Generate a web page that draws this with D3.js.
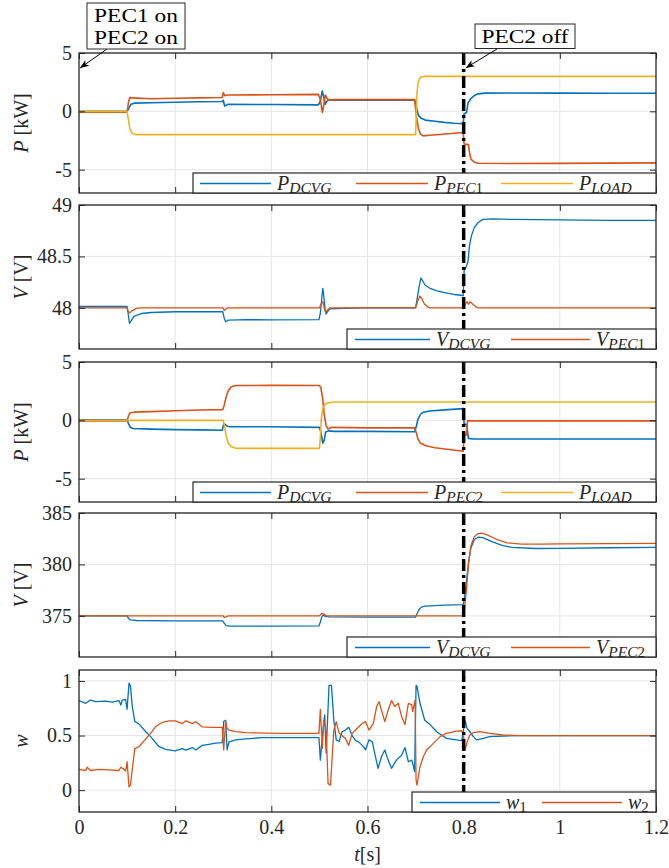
<!DOCTYPE html>
<html><head><meta charset="utf-8">
<script src="https://cdn.jsdelivr.net/npm/d3@7"></script>
<style>body{margin:0;background:#fff}svg{display:block}</style>
</head><body>
<svg id="c" width="669" height="868"></svg>
<script>
// ---------- data (t [s], value) ----------
const timeTicks = [0, 0.2, 0.4, 0.6, 0.8, 1, 1.2];
const timeTickLabels = ["0", "0.2", "0.4", "0.6", "0.8", "1", "1.2"];
const eventTime = 0.8;

const p1Ticks = [-5, 0, 5];           const p1TickLabels = ["-5", "0", "5"];
const v1Ticks = [48, 48.5, 49];       const v1TickLabels = ["48", "48.5", "49"];
const p2Ticks = [-5, 0, 5];           const p2TickLabels = ["-5", "0", "5"];
const v2Ticks = [375, 380, 385];      const v2TickLabels = ["375", "380", "385"];
const wTicks = [0, 0.5, 1];           const wTickLabels = ["0", "0.5", "1"];

// Panel 1: powers with PEC1
const pDCVG1 = [[0,0],[0.1,0],[0.104,0.3],[0.108,0.6],[0.115,0.7],[0.15,0.74],[0.2,0.78],[0.25,0.82],[0.298,0.84],[0.3,0.95],[0.303,0.45],[0.307,0.55],[0.31,0.6],[0.4,0.58],[0.498,0.55],[0.502,0.9],[0.506,1.75],[0.509,1.2],[0.512,0.6],[0.515,0.85],[0.52,1.0],[0.53,0.95],[0.6,0.95],[0.698,0.95],[0.702,0.3],[0.706,-0.35],[0.712,-0.6],[0.72,-0.75],[0.74,-0.85],[0.76,-0.95],[0.78,-1.02],[0.799,-1.05],[0.801,-0.2],[0.806,-0.1],[0.809,0.7],[0.815,1.1],[0.822,1.35],[0.83,1.5],[0.845,1.56],[0.9,1.57],[1.0,1.56],[1.1,1.55],[1.2,1.55]];
const pPEC1 = [[0,-0.08],[0.1,-0.08],[0.103,0.8],[0.106,1.2],[0.11,1.15],[0.15,1.08],[0.2,1.12],[0.25,1.15],[0.298,1.18],[0.3,1.6],[0.303,1.35],[0.31,1.4],[0.4,1.42],[0.498,1.45],[0.502,1.0],[0.506,-0.1],[0.509,0.5],[0.512,1.4],[0.516,1.1],[0.52,0.95],[0.53,1.0],[0.6,1.0],[0.698,1.0],[0.702,-0.5],[0.706,-1.5],[0.71,-1.95],[0.716,-2.1],[0.73,-2.05],[0.75,-1.98],[0.78,-1.88],[0.799,-1.82],[0.801,-2.8],[0.81,-2.85],[0.812,-3.5],[0.815,-4.1],[0.822,-4.35],[0.83,-4.45],[0.9,-4.47],[1.0,-4.46],[1.1,-4.44],[1.2,-4.42]];
const pLOAD1 = [[0,0],[0.1,0],[0.103,-0.8],[0.106,-1.5],[0.11,-1.85],[0.115,-1.97],[0.12,-2.0],[0.7,-2.0],[0.701,-1.0],[0.702,0.5],[0.703,1.6],[0.705,2.4],[0.708,2.8],[0.712,2.95],[0.72,3.0],[1.2,3.0]];

// Panel 2: voltages, 48 V side
const vDCVG1 = [[0,48.013],[0.1,48.013],[0.102,47.95],[0.105,47.85],[0.108,47.87],[0.115,47.92],[0.13,47.945],[0.15,47.955],[0.2,47.962],[0.299,47.962],[0.302,47.9],[0.305,47.865],[0.31,47.88],[0.35,47.885],[0.4,47.883],[0.499,47.885],[0.502,47.95],[0.505,48.1],[0.507,48.19],[0.509,48.12],[0.512,47.97],[0.514,47.94],[0.518,47.97],[0.522,47.99],[0.55,47.995],[0.6,48.0],[0.7,48.0],[0.703,48.08],[0.707,48.2],[0.711,48.29],[0.715,48.26],[0.72,48.22],[0.73,48.19],[0.745,48.165],[0.76,48.148],[0.78,48.13],[0.799,48.12],[0.801,48.36],[0.806,48.41],[0.809,48.45],[0.812,48.6],[0.816,48.7],[0.822,48.78],[0.83,48.83],[0.84,48.86],[0.86,48.865],[0.9,48.86],[1.0,48.855],[1.1,48.85],[1.2,48.85]];
const vPEC1 = [[0,48.0],[0.1,48.0],[0.102,47.97],[0.105,47.95],[0.11,47.97],[0.12,47.995],[0.13,48.0],[0.299,48.0],[0.302,47.975],[0.306,47.99],[0.31,48.0],[0.5,48.0],[0.504,48.04],[0.507,48.06],[0.51,48.0],[0.513,47.955],[0.517,47.98],[0.522,48.0],[0.7,48.0],[0.704,48.06],[0.709,48.115],[0.713,48.09],[0.718,48.04],[0.725,48.01],[0.73,48.0],[0.8,48.0],[0.803,48.03],[0.807,48.06],[0.81,48.035],[0.813,48.06],[0.818,48.04],[0.824,48.015],[0.83,48.0],[1.2,48.0]];

// Panel 3: powers with PEC2
const pDCVG2 = [[0,0.05],[0.1,0.05],[0.103,-0.3],[0.107,-0.6],[0.112,-0.7],[0.15,-0.75],[0.2,-0.8],[0.25,-0.82],[0.298,-0.85],[0.301,-0.3],[0.304,-0.35],[0.308,-0.5],[0.315,-0.55],[0.4,-0.55],[0.5,-0.6],[0.503,-1.0],[0.507,-1.95],[0.51,-1.7],[0.513,-1.0],[0.52,-0.9],[0.53,-0.95],[0.6,-0.95],[0.698,-0.98],[0.701,-0.6],[0.705,0.1],[0.71,0.5],[0.716,0.7],[0.73,0.8],[0.76,0.9],[0.799,1.0],[0.801,-0.3],[0.806,-0.35],[0.81,-1.55],[0.82,-1.6],[1.2,-1.6]];
const pPEC2 = [[0,-0.05],[0.1,-0.05],[0.103,0.4],[0.107,0.65],[0.115,0.7],[0.15,0.75],[0.2,0.82],[0.25,0.88],[0.299,0.92],[0.302,1.3],[0.306,2.0],[0.31,2.5],[0.316,2.85],[0.325,2.98],[0.4,3.0],[0.5,2.98],[0.503,2.8],[0.507,1.8],[0.51,0.5],[0.514,-0.45],[0.518,-0.75],[0.525,-0.6],[0.6,-0.65],[0.698,-0.65],[0.701,-1.0],[0.705,-1.6],[0.71,-1.95],[0.72,-2.15],[0.74,-2.35],[0.77,-2.5],[0.799,-2.65],[0.801,-1.3],[0.806,-1.25],[0.808,-0.05],[1.2,-0.05]];
const pLOAD2 = [[0,0],[0.3,0],[0.302,-0.4],[0.306,-1.3],[0.31,-1.9],[0.316,-2.25],[0.325,-2.38],[0.34,-2.4],[0.5,-2.4],[0.502,-1.5],[0.504,0.2],[0.507,1.0],[0.511,1.35],[0.518,1.5],[0.53,1.57],[1.2,1.57]];

// Panel 4: voltages, 380 V side
const vDCVG2 = [[0,375],[0.1,375],[0.103,374.75],[0.107,374.6],[0.12,374.55],[0.2,374.52],[0.299,374.52],[0.302,374.3],[0.306,374.05],[0.315,374.0],[0.4,374.0],[0.499,374.02],[0.502,374.4],[0.505,374.9],[0.508,375.1],[0.512,374.95],[0.52,374.9],[0.6,374.88],[0.7,374.88],[0.703,375.2],[0.707,375.6],[0.712,375.85],[0.72,375.95],[0.76,376.05],[0.799,376.1],[0.801,376.5],[0.805,378.0],[0.81,380.2],[0.815,381.6],[0.822,382.4],[0.83,382.65],[0.84,382.6],[0.86,382.2],[0.88,381.85],[0.9,381.65],[0.95,381.55],[1.0,381.57],[1.1,381.62],[1.2,381.65]];
const vPEC2 = [[0,375],[0.3,375],[0.302,374.85],[0.306,374.9],[0.31,375],[0.5,375],[0.503,375.15],[0.507,375.25],[0.511,375.1],[0.515,375],[0.8,375],[0.802,375.8],[0.806,377.7],[0.81,380.0],[0.815,381.8],[0.822,382.7],[0.83,383.0],[0.838,383.05],[0.85,382.85],[0.87,382.4],[0.89,382.1],[0.92,381.98],[0.96,381.97],[1.0,382.0],[1.1,382.03],[1.2,382.05]];

// Panel 5: weights
const w1 = [[0,0.82],[0.014,0.795],[0.024,0.825],[0.035,0.81],[0.055,0.815],[0.069,0.805],[0.083,0.82],[0.087,0.78],[0.09,0.825],[0.097,0.83],[0.1,0.74],[0.104,0.98],[0.107,0.95],[0.111,0.76],[0.116,0.63],[0.125,0.605],[0.139,0.535],[0.149,0.49],[0.166,0.4],[0.18,0.373],[0.2,0.36],[0.215,0.38],[0.222,0.367],[0.236,0.39],[0.243,0.367],[0.256,0.41],[0.27,0.42],[0.284,0.43],[0.298,0.435],[0.301,0.63],[0.305,0.64],[0.308,0.37],[0.312,0.443],[0.326,0.46],[0.347,0.47],[0.381,0.48],[0.416,0.48],[0.499,0.48],[0.502,0.275],[0.506,0.49],[0.511,0.69],[0.514,0.34],[0.52,0.96],[0.525,0.96],[0.53,0.64],[0.535,0.46],[0.541,0.445],[0.547,0.535],[0.554,0.55],[0.561,0.575],[0.568,0.5],[0.575,0.455],[0.582,0.44],[0.589,0.41],[0.596,0.37],[0.603,0.46],[0.61,0.443],[0.615,0.336],[0.622,0.2],[0.629,0.306],[0.636,0.367],[0.643,0.275],[0.65,0.2],[0.66,0.275],[0.671,0.32],[0.678,0.39],[0.685,0.26],[0.692,0.275],[0.695,0.23],[0.698,0.17],[0.701,0.96],[0.703,0.95],[0.709,0.8],[0.719,0.64],[0.73,0.6],[0.744,0.535],[0.764,0.474],[0.785,0.46],[0.796,0.453],[0.803,0.64],[0.807,0.566],[0.813,0.535],[0.82,0.49],[0.827,0.46],[0.841,0.474],[0.854,0.49],[0.882,0.495],[0.917,0.5],[1.2,0.5]];
const w2 = [[0,0.19],[0.014,0.18],[0.017,0.21],[0.024,0.18],[0.042,0.19],[0.062,0.185],[0.083,0.18],[0.087,0.21],[0.094,0.19],[0.097,0.175],[0.1,0.26],[0.104,0.03],[0.107,0.045],[0.111,0.2],[0.116,0.38],[0.125,0.4],[0.139,0.47],[0.149,0.52],[0.159,0.58],[0.173,0.62],[0.187,0.635],[0.2,0.635],[0.215,0.61],[0.222,0.635],[0.236,0.61],[0.243,0.627],[0.256,0.58],[0.277,0.575],[0.298,0.575],[0.301,0.367],[0.305,0.635],[0.308,0.566],[0.312,0.55],[0.326,0.535],[0.347,0.526],[0.416,0.52],[0.499,0.52],[0.502,0.74],[0.506,0.382],[0.509,0.642],[0.514,0.55],[0.518,0.06],[0.523,0.046],[0.53,0.55],[0.535,0.627],[0.541,0.52],[0.554,0.474],[0.561,0.41],[0.568,0.52],[0.575,0.55],[0.582,0.58],[0.589,0.61],[0.596,0.627],[0.603,0.55],[0.612,0.61],[0.619,0.765],[0.624,0.81],[0.629,0.734],[0.636,0.627],[0.643,0.734],[0.65,0.82],[0.657,0.765],[0.664,0.795],[0.671,0.673],[0.678,0.6],[0.685,0.795],[0.692,0.78],[0.694,0.719],[0.699,0.826],[0.701,0.09],[0.703,0.046],[0.709,0.21],[0.716,0.306],[0.723,0.367],[0.737,0.428],[0.751,0.49],[0.764,0.52],[0.785,0.54],[0.796,0.544],[0.799,0.52],[0.803,0.367],[0.807,0.44],[0.813,0.505],[0.82,0.526],[0.834,0.535],[0.854,0.52],[0.882,0.505],[0.917,0.5],[1.2,0.5]];

const annotStart = ["PEC1 on", "PEC2 on"];
const annotEvent = ["PEC2 off"];

// ---------- drawing ----------
const C = {blue: "#0072BD", red: "#D95319", yellow: "#EDB120", axis: "#262626", grid: "#e5e5e5"};
const FONT = "'Liberation Serif', 'DejaVu Serif', serif";
const svg = d3.select("#c");
const X0 = 79, X1 = 656;
const x = d3.scaleLinear().domain([0, 1.2]).range([X0, X1]);

const panels = [
  {top: 53, bottom: 193, dom: [-7, 5], ticks: p1Ticks, labels: p1TickLabels, ylab: ["P", " [kW]"],
   series: [[pDCVG1, C.blue], [pPEC1, C.red], [pLOAD1, C.yellow]], sw: 1.6,
   legend: {left: 193, items: [["P", "DCVG", "", C.blue], ["P", "PEC", "1", C.red], ["P", "LOAD", "", C.yellow]], itemW: [[200, 277], [356, 434], [501, 579]]}},
  {top: 205, bottom: 349, dom: [47.6, 49], ticks: v1Ticks, labels: v1TickLabels, ylab: ["V", " [V]"],
   series: [[vDCVG1, C.blue], [vPEC1, C.red]], sw: 1.3,
   legend: {left: 347, items: [["V", "DCVG", "", C.blue], ["V", "PEC", "1", C.red]], itemW: [[355, 436], [511, 596]]}},
  {top: 362, bottom: 502, dom: [-7, 5], ticks: p2Ticks, labels: p2TickLabels, ylab: ["P", " [kW]"],
   series: [[pDCVG2, C.blue], [pPEC2, C.red], [pLOAD2, C.yellow]], sw: 1.6,
   legend: {left: 193, items: [["P", "DCVG", "", C.blue], ["P", "PEC", "2", C.red], ["P", "LOAD", "", C.yellow]], itemW: [[200, 277], [356, 434], [501, 579]]}},
  {top: 513, bottom: 657, dom: [371, 385], ticks: v2Ticks, labels: v2TickLabels, ylab: ["V", " [V]"],
   series: [[vDCVG2, C.blue], [vPEC2, C.red]], sw: 1.3,
   legend: {left: 347, items: [["V", "DCVG", "", C.blue], ["V", "PEC", "2", C.red]], itemW: [[355, 436], [511, 596]]}},
  {top: 670, bottom: 812, dom: [-0.2, 1.1], ticks: wTicks, labels: wTickLabels, ylab: ["w", ""],
   series: [[w1, C.blue], [w2, C.red]], sw: 1.3, xlabels: true,
   legend: {left: 412, items: [["w", "", "1", C.blue], ["w", "", "2", C.red]], itemW: [[420, 506], [542, 628]]}}
];

const defs = svg.append("defs");
defs.append("marker").attr("id", "arr").attr("viewBox", "-10 -5 12 10").attr("refX", 0).attr("refY", 0)
  .attr("markerWidth", 12).attr("markerHeight", 10).attr("markerUnits", "userSpaceOnUse").attr("orient", "auto")
  .append("path").attr("d", "M0,0 L-9,-3.5 L-6.5,0 L-9,3.5 Z").attr("fill", "#000");

panels.forEach((p, i) => {
  const y = d3.scaleLinear().domain(p.dom).range([p.bottom, p.top]);
  const g = svg.append("g");
  defs.append("clipPath").attr("id", "clip" + i).append("rect")
    .attr("x", X0).attr("y", p.top).attr("width", X1 - X0).attr("height", p.bottom - p.top);
  // grid
  g.selectAll(".gx").data(timeTicks.slice(1, -1)).join("line")
    .attr("x1", d => x(d)).attr("x2", d => x(d)).attr("y1", p.top).attr("y2", p.bottom)
    .attr("stroke", C.grid).attr("stroke-width", 1);
  g.selectAll(".gy").data(p.ticks).join("line")
    .attr("x1", X0).attr("x2", X1).attr("y1", d => y(d)).attr("y2", d => y(d))
    .attr("stroke", C.grid).attr("stroke-width", 1);
  // series
  const line = d3.line().x(d => x(d[0])).y(d => y(d[1]));
  const sg = g.append("g").attr("clip-path", `url(#clip${i})`);
  p.series.forEach(([data, col]) => {
    sg.append("path").attr("d", line(data)).attr("fill", "none").attr("stroke", col)
      .attr("stroke-width", p.sw).attr("stroke-linejoin", "round");
  });
  // event line
  g.append("line").attr("x1", x(eventTime)).attr("x2", x(eventTime)).attr("y1", p.top).attr("y2", p.bottom)
    .attr("stroke", "#000").attr("stroke-width", 3.5).attr("stroke-dasharray", "12,4,3,4");
  // axes (inward ticks, mirrored on top/right)
  const ya = d3.axisLeft(y).tickValues(p.ticks).tickSize(-6).tickFormat((d, k) => p.labels[k]).tickPadding(7);
  const yg = g.append("g").attr("transform", `translate(${X0},0)`).call(ya);
  const yr = g.append("g").attr("transform", `translate(${X1},0)`).call(d3.axisRight(y).tickValues(p.ticks).tickSize(-6).tickFormat(""));
  const xa = d3.axisBottom(x).tickValues(timeTicks).tickSize(-6).tickPadding(7)
    .tickFormat((d, k) => p.xlabels ? timeTickLabels[k] : "");
  const xg = g.append("g").attr("transform", `translate(0,${p.bottom})`).call(xa);
  const xt = g.append("g").attr("transform", `translate(0,${p.top})`).call(d3.axisTop(x).tickValues(timeTicks).tickSize(-6).tickFormat(""));
  [yg, yr, xg, xt].forEach(a => {
    a.select(".domain").remove();
    a.selectAll("line").attr("stroke", C.axis).attr("stroke-width", 1);
    a.selectAll("text").attr("fill", C.axis).style("font-family", FONT).style("font-size", "20px");
  });
  xg.selectAll("text").attr("dy", "0.75em");
  g.append("rect").attr("x", X0).attr("y", p.top).attr("width", X1 - X0).attr("height", p.bottom - p.top)
    .attr("fill", "none").attr("stroke", C.axis).attr("stroke-width", 1.3);
  // y label
  const yl = g.append("text").attr("transform", `translate(28,${(p.top + p.bottom) / 2}) rotate(-90)`)
    .attr("text-anchor", "middle").style("font-family", FONT).style("font-size", "20px").attr("fill", C.axis);
  yl.append("tspan").style("font-style", "italic").text(p.ylab[0]);
  if (p.ylab[1]) yl.append("tspan").text(p.ylab[1]);
  // legend
  const L = p.legend, lt = p.bottom - 20;
  g.append("rect").attr("x", L.left).attr("y", lt).attr("width", X1 - L.left).attr("height", 20)
    .attr("fill", "#fff").attr("stroke", C.axis).attr("stroke-width", 1.2);
  L.items.forEach((it, k) => {
    const [lx, tx] = L.itemW[k];
    g.append("line").attr("x1", lx).attr("x2", tx - 6).attr("y1", lt + 10.5).attr("y2", lt + 10.5)
      .attr("stroke", it[3]).attr("stroke-width", 1.4);
    const t = g.append("text").attr("x", tx).attr("y", lt + 16.5).style("font-family", FONT)
      .style("font-size", "20px").attr("fill", C.axis);
    t.append("tspan").style("font-style", "italic").text(it[0]);
    if (it[1]) t.append("tspan").attr("dy", 3).style("font-style", "italic").style("font-size", "15.5px").text(it[1]);
    if (it[2]) t.append("tspan").attr("dy", it[1] ? 0 : 3).style("font-size", "15px").text(it[2]);
  });
});

// x label
const xl = svg.append("text").attr("x", x(0.6)).attr("y", 861).attr("text-anchor", "middle")
  .style("font-family", FONT).style("font-size", "20px").attr("fill", C.axis);
xl.append("tspan").style("font-style", "italic").text("t");
xl.append("tspan").text("[s]");

// annotations
function note(lines, bx, by, bw, bh, from, to) {
  const g = svg.append("g");
  g.append("line").attr("x1", from[0]).attr("y1", from[1]).attr("x2", to[0]).attr("y2", to[1])
    .attr("stroke", "#000").attr("stroke-width", 1).attr("marker-end", "url(#arr)");
  g.append("rect").attr("x", bx).attr("y", by).attr("width", bw).attr("height", bh)
    .attr("fill", "#fff").attr("stroke", C.axis).attr("stroke-width", 1);
  lines.forEach((s, k) => {
    g.append("text").attr("transform", `translate(${bx + bw / 2},${by + 19 + k * 22}) scale(1.2,1)`)
      .attr("text-anchor", "middle").style("font-family", FONT).style("font-size", "19.5px")
      .attr("fill", "#000").text(s);
  });
}
note(annotStart, 87, 3, 98, 46, [107, 49], [x(0) + 1, 68]);
note(annotEvent, 475, 24, 100, 24.5, [497, 49], [x(eventTime) + 2, 68]);
</script>
</body></html>
